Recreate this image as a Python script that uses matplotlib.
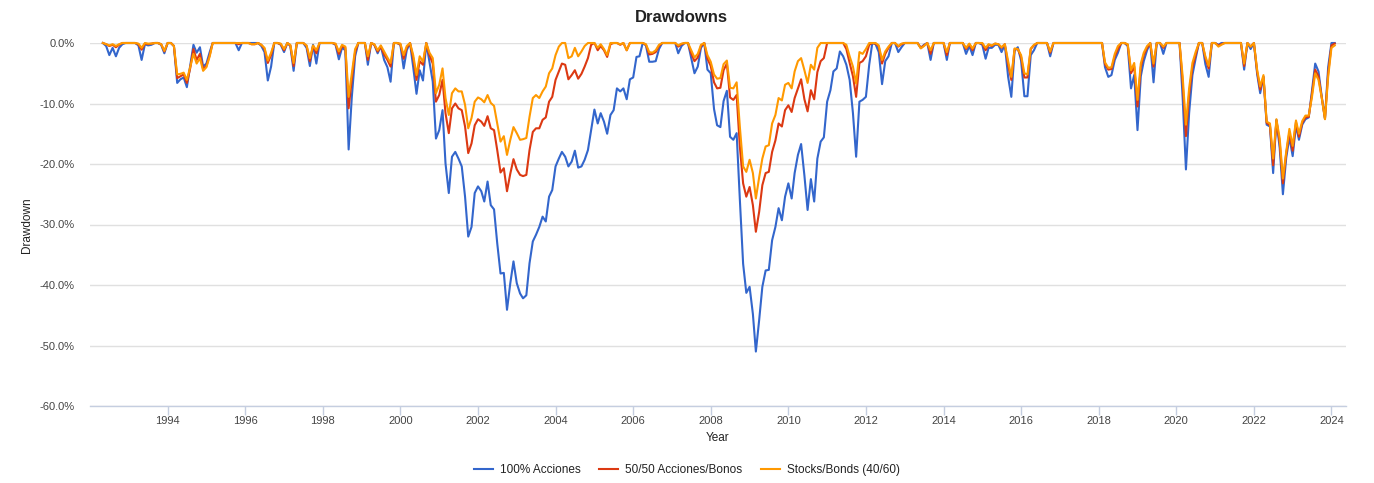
import numpy as np
import matplotlib
matplotlib.use('Agg')
import matplotlib.pyplot as plt

plt.rcParams['font.family'] = ['Liberation Sans', 'DejaVu Sans']

# monthly drawdowns (%), May 1992 .. Feb 2024
first_month = '1992-05'
last_month = '2024-03'  # exclusive

series_names = ['100% Acciones', '50/50 Acciones/Bonos', 'Stocks/Bonds (40/60)']
series_colors = ['#3366cc', '#dc3912', '#ff9900']

acciones_100 = [
    0.0, -0.5, -2.0, -0.8, -2.2, -0.8, -0.2, 0.0,
    0, 0, 0, -0.4, -2.8, -0.2, -0.4, -0.3, 0, 0, -0.3, -1.7,
    0, 0, -0.5, -6.6, -6.0, -5.7, -7.3, -3.8, -0.3, -1.6, -0.7, -3.9,
    -3.4, -1.5, 0, 0, 0, 0, 0, 0, 0, 0, -1.2, 0,
    0, 0, 0, 0, 0, -0.5, -1.5, -6.2, -3.9, 0, 0, -0.3,
    -1.5, 0, -0.5, -4.6, 0, 0, 0, -0.8, -3.8, -0.3, -3.4, 0,
    0, 0, 0, 0, -0.3, -2.7, -0.8, -1.2, -17.6, -8.9, -2.2, 0,
    0, 0, -3.6, 0, -0.3, -1.7, -0.5, -2.8, -4.0, -6.4, 0, 0,
    -0.3, -4.2, -1.2, 0, -4.0, -8.4, -4.5, -6.2, 0, -3.2, -6.4, -15.8,
    -14.4, -11.1, -19.9, -24.8, -18.8, -18.0, -19.1, -20.4, -25.4, -32.0, -30.4, -24.8,
    -23.7, -24.5, -26.2, -22.9, -26.8, -27.5, -33.1, -38.1, -38.0, -44.1, -39.7, -36.1,
    -39.7, -41.4, -42.2, -41.7, -36.4, -32.8, -31.7, -30.4, -28.7, -29.5, -25.4, -24.3,
    -20.4, -19.1, -18.0, -18.8, -20.4, -19.6, -17.8, -20.6, -20.4, -19.3, -17.7, -14.4,
    -11.0, -13.3, -11.6, -13.0, -15.0, -11.9, -11.1, -7.5, -8.0, -7.5, -9.3, -6.0,
    -5.7, -2.3, -2.2, 0, -0.4, -3.1, -3.1, -3.0, -1.0, 0, 0, 0,
    0, 0, -1.7, -0.5, 0, 0, -2.5, -5.0, -3.9, -0.8, 0, -4.4,
    -5.0, -10.9, -13.6, -13.9, -9.6, -7.9, -15.5, -16.0, -14.9, -25.8, -36.5, -41.3,
    -40.3, -44.8, -51.0, -45.8, -40.3, -37.6, -37.5, -32.6, -30.4, -27.3, -29.3, -25.4,
    -23.2, -25.7, -21.5, -18.5, -16.7, -21.9, -27.6, -22.5, -26.2, -19.1, -16.3, -15.6,
    -9.7, -7.8, -4.7, -4.2, -1.4, -2.2, -3.6, -6.1, -11.6, -18.8, -9.7, -9.4,
    -8.9, -3.6, 0, -0.2, -1.5, -6.8, -3.0, -2.2, 0, 0, -1.5, -0.7,
    0, 0, 0, 0, 0, -0.8, -0.3, 0, -2.8, 0, 0, 0,
    0, -2.8, 0, 0, 0, 0, 0, -1.8, -0.5, -2.0, 0, 0,
    -0.3, -2.6, -0.8, -0.8, -0.3, -0.3, -1.5, -0.3, -5.6, -8.9, -1.3, -0.7,
    -2.9, -8.8, -8.8, -2.0, -1.2, 0, 0, 0, 0, -2.2, 0, 0,
    0, 0, 0, 0, 0, 0, 0, 0, 0, 0, 0, 0,
    0, 0, -4.0, -5.6, -5.3, -2.8, -1.6, 0, 0, -0.5, -7.5, -5.3,
    -14.4, -5.5, -3.0, -1.2, 0, -6.5, 0, 0, -1.8, 0, 0, 0,
    0, 0, -9.0, -20.9, -11.6, -5.3, -2.6, 0, 0, -3.5, -5.6, 0,
    0, -0.3, 0, 0, 0, 0, 0, 0, 0, -4.4, 0, -1.0,
    0, -5.2, -8.3, -5.6, -13.5, -13.8, -21.5, -12.7, -17.4, -25.0, -19.0, -15.6,
    -18.7, -13.6, -16.0, -13.5, -12.6, -12.3, -8.0, -3.4, -4.7, -8.8, -12.5, -4.0,
    0, 0,
]

acciones_bonos_50 = [
    0, -0.2, -0.5, -0.3, -0.7, -0.3, 0, 0,
    0, 0, 0, -0.2, -1.1, -0.1, -0.2, -0.1, 0, 0, -0.2, -1.4,
    0, 0, -0.5, -5.8, -5.5, -5.2, -6.6, -4.2, -1.0, -2.8, -1.8, -4.3,
    -3.8, -2.0, 0, 0, 0, 0, 0, 0, 0, 0, -0.2, 0,
    0, 0, -0.2, -0.2, 0, -0.3, -1.0, -3.3, -2.0, 0, 0, -0.2,
    -1.2, 0, -0.4, -3.8, 0, 0, 0, -0.5, -3.0, -0.5, -1.7, 0,
    0, 0, 0, 0, -0.2, -1.8, -0.5, -0.8, -10.8, -6.0, -1.5, 0,
    0, 0, -2.8, 0, -0.3, -1.4, -0.6, -1.9, -2.8, -3.9, 0, 0,
    -0.2, -2.6, -0.8, 0, -2.5, -6.1, -3.0, -3.6, 0, -2.0, -3.4, -9.7,
    -8.6, -6.1, -11.6, -14.9, -10.8, -10.0, -10.8, -11.1, -13.8, -18.2, -16.6, -13.6,
    -12.6, -13.0, -13.7, -12.1, -14.1, -14.4, -17.7, -21.4, -20.7, -24.5, -21.6, -19.2,
    -20.9, -21.8, -22.0, -21.8, -17.7, -14.7, -14.1, -14.1, -12.7, -12.3, -9.7, -8.9,
    -6.1, -4.7, -3.4, -3.6, -6.0, -5.3, -4.5, -5.9, -5.1, -3.9, -2.5, -0.3,
    0, -1.2, -0.5, -1.2, -2.3, -0.2, 0, 0, -0.3, 0, -1.2, 0,
    0, 0, 0, 0, -0.3, -1.9, -1.8, -1.5, -0.5, 0, 0, 0,
    0, 0, -0.6, -0.2, 0, 0, -1.7, -3.0, -2.4, -0.5, 0, -2.6,
    -3.8, -6.5, -7.5, -7.4, -4.5, -3.4, -9.0, -9.4, -8.6, -17.1, -23.2, -25.4,
    -23.8, -26.8, -31.2, -27.9, -23.5, -21.5, -21.3, -18.0, -16.1, -13.3, -13.8, -11.1,
    -10.3, -11.4, -9.1, -7.5, -6.0, -9.3, -11.3, -7.8, -9.3, -4.8, -3.0, -2.5,
    0, 0, 0, 0, 0, 0, -1.0, -3.3, -5.5, -8.9, -3.3, -3.0,
    -2.2, -0.3, 0, -0.1, -0.6, -3.4, -1.8, -0.8, 0, 0, -0.6, -0.2,
    0, 0, 0, 0, 0, -0.8, -0.4, 0, -1.8, 0, 0, 0,
    0, -2.0, 0, 0, 0, 0, 0, -1.0, -0.2, -1.2, 0, 0,
    -0.1, -1.2, -0.3, -0.5, -0.1, -0.2, -0.8, -0.2, -3.6, -6.1, -1.0, -1.0,
    -2.3, -5.7, -5.7, -1.0, -0.4, 0, 0, 0, 0, -1.6, 0, 0,
    0, 0, 0, 0, 0, 0, 0, 0, 0, 0, 0, 0,
    0, 0, -3.5, -4.4, -4.3, -2.2, -1.0, 0, 0, -0.3, -5.0, -3.9,
    -10.5, -4.0, -2.0, -0.8, 0, -3.9, 0, 0, -0.8, 0, 0, 0,
    0, 0, -6.5, -15.4, -8.5, -4.0, -2.0, 0, 0, -2.5, -4.2, 0,
    0, -0.4, -0.2, 0, 0, 0, 0, 0, 0, -3.8, 0, -0.6,
    0, -4.8, -7.7, -5.6, -13.2, -13.6, -20.2, -12.8, -16.5, -23.2, -18.3, -14.8,
    -17.8, -13.1, -15.5, -13.2, -12.3, -12.2, -8.5, -4.4, -5.5, -8.9, -12.5, -5.0,
    -0.4, -0.1,
]

stocks_bonds_40 = [
    0, -0.2, -0.4, -0.2, -0.5, -0.2, 0, 0,
    0, 0, 0, -0.1, -0.8, 0, -0.1, -0.1, 0, 0, -0.2, -1.3,
    0, 0, -0.5, -5.2, -5.1, -4.9, -6.1, -4.0, -1.8, -3.4, -2.5, -4.6,
    -4.0, -2.2, 0, 0, 0, 0, 0, 0, 0, 0, 0, 0,
    0, 0, -0.2, -0.2, 0, -0.3, -0.8, -2.9, -1.6, 0, 0, -0.1,
    -1.0, 0, -0.3, -3.3, 0, 0, 0, -0.4, -2.5, -0.4, -1.2, 0,
    0, 0, 0, 0, -0.1, -1.4, -0.3, -0.6, -8.9, -5.0, -1.0, 0,
    0, 0, -2.2, 0, -0.2, -1.2, -0.4, -1.4, -2.4, -3.3, 0, 0,
    -0.1, -2.0, -0.5, 0, -2.0, -5.3, -2.2, -3.1, 0, -1.6, -2.5, -8.3,
    -6.9, -4.2, -9.1, -11.9, -8.3, -7.5, -8.0, -8.0, -10.2, -14.1, -12.4, -9.7,
    -9.0, -9.3, -9.8, -8.6, -9.9, -10.4, -13.3, -16.3, -15.4, -18.5, -16.0, -13.9,
    -14.9, -16.0, -15.9, -15.7, -12.2, -9.1, -8.6, -9.1, -8.0, -7.2, -5.0, -4.2,
    -2.0, -0.6, 0, 0, -2.5, -2.2, -0.8, -2.2, -1.4, -0.5, 0, 0,
    0, -0.8, -0.2, -1.0, -2.0, 0, 0, 0, -0.2, 0, -1.2, 0,
    0, 0, 0, 0, -0.2, -1.5, -1.6, -1.2, -0.3, 0, 0, 0,
    0, 0, -0.4, -0.1, 0, 0, -1.2, -2.4, -1.8, -0.3, 0, -2.0,
    -3.1, -5.2, -5.9, -5.8, -3.5, -2.9, -7.4, -7.5, -6.5, -13.8, -20.4, -21.3,
    -19.3, -21.5, -25.7, -22.2, -19.1, -17.1, -16.9, -13.3, -11.9, -9.1, -9.5, -6.9,
    -6.6, -7.5, -4.7, -3.0, -2.5, -4.5, -6.6, -3.6, -4.4, -0.8, 0, 0,
    0, 0, 0, 0, 0, 0, -0.3, -2.2, -3.9, -6.7, -1.5, -1.8,
    -1.0, 0, 0, 0, -0.4, -2.8, -1.4, -0.6, 0, 0, -0.5, -0.1,
    0, 0, 0, 0, 0, -0.9, -0.5, 0, -1.2, 0, 0, 0,
    0, -1.5, 0, 0, 0, 0, 0, -0.8, -0.1, -0.9, 0, 0,
    0, -0.8, -0.2, -0.4, -0.1, -0.2, -0.7, -0.2, -3.0, -5.6, -0.9, -1.0,
    -2.0, -5.0, -5.2, -0.9, -0.3, 0, 0, 0, 0, -1.4, 0, 0,
    0, 0, 0, 0, 0, 0, 0, 0, 0, 0, 0, 0,
    0, 0, -3.2, -4.1, -4.0, -1.8, -0.5, 0, 0, -0.2, -4.5, -3.3,
    -9.4, -3.4, -1.6, -0.5, 0, -3.4, 0, 0, -0.6, 0, 0, 0,
    0, 0, -5.5, -13.5, -7.5, -3.3, -1.5, 0, 0, -2.2, -3.8, 0,
    0, -0.6, -0.3, 0, 0, 0, 0, 0, 0, -3.4, 0, -0.6,
    0, -4.5, -7.2, -5.3, -13.0, -13.3, -19.1, -12.6, -15.8, -22.4, -18.0, -14.2,
    -17.0, -12.8, -15.0, -12.9, -12.0, -12.0, -9.0, -5.0, -6.1, -9.0, -12.6, -5.6,
    -0.8, -0.4,
]

tick_years = list(range(1994, 2025, 2))
y_ticks = [0, -10, -20, -30, -40, -50, -60]

months = np.arange(first_month, last_month, dtype='datetime64[M]').astype('datetime64[D]')
all_series = [acciones_100, acciones_bonos_50, stocks_bonds_40]
for s in all_series:
    assert len(s) == len(months), (len(s), len(months))

W, H = 1374, 483
fig = plt.figure(figsize=(W / 100, H / 100), dpi=100)
ax = fig.add_axes([90 / W, 1 - 406 / H, (1346 - 90) / W, (406 - 43) / H])

handles = []
for vals, name, col in zip(all_series, series_names, series_colors):
    ln, = ax.plot(months, vals, color=col, lw=1.5, label=name, clip_on=False,
                  solid_joinstyle='round')
    handles.append(ln)

ax.set_xlim(np.datetime64('1992-01-01'), np.datetime64('2024-05-17'))
ax.set_ylim(-60, 0)

ax.set_xticks([np.datetime64(f'{y}-01-01') for y in tick_years])
ax.set_xticklabels([str(y) for y in tick_years])
ax.set_yticks(y_ticks)
ax.set_yticklabels([f'{v:.1f}%' for v in y_ticks])

ax.grid(axis='y', color='#e0e0e0', lw=1)
ax.set_axisbelow(True)
for side in ['top', 'right', 'left']:
    ax.spines[side].set_visible(False)
ax.spines['bottom'].set_color('#c5cee0')
ax.spines['bottom'].set_linewidth(1)

ax.tick_params(axis='x', length=6.5, width=1, color='#c5cee0',
               labelsize=8, labelcolor='#444444', pad=1)
ax.tick_params(axis='y', length=0, labelsize=8, labelcolor='#444444', pad=11)

fig.text(0.496, 1 - 17 / H, 'Drawdowns', ha='center', va='center',
         fontsize=12, fontweight='bold', color='#222222')
fig.text(27 / W, 1 - 225 / H, 'Drawdown', ha='center', va='center',
         rotation=90, fontsize=8.5, color='#222222')
fig.text(718 / W, 1 - 438 / H, 'Year', ha='center', va='center',
         fontsize=8.5, color='#222222')

fig.legend(handles=handles, loc='center', bbox_to_anchor=(0.5, 1 - 470 / H),
           ncol=3, frameon=False, fontsize=8.5, handlelength=1.6,
           handletextpad=0.6, columnspacing=1.6, labelcolor='#222222')

fig.savefig('out.png', dpi=100)
